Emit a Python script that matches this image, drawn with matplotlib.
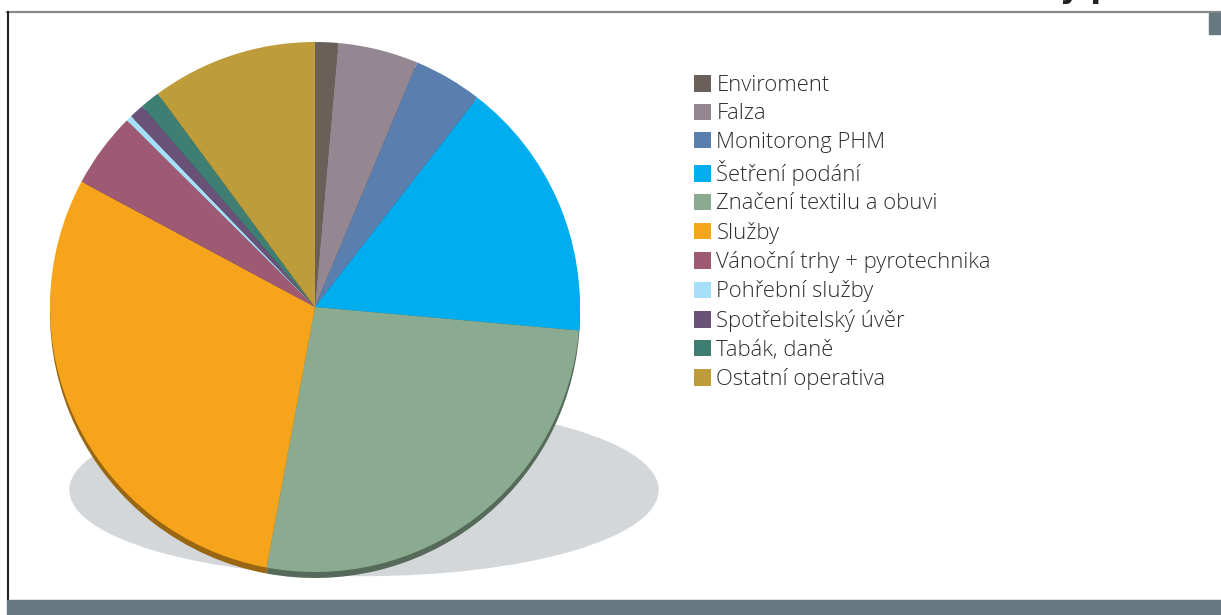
import matplotlib.pyplot as plt
from matplotlib.patches import Ellipse, Rectangle
from matplotlib.colors import to_rgb

# Data (share of actions, in %)
labels = ['Enviroment', 'Falza', 'Monitorong PHM', 'Šetření podání',
          'Značení textilu a obuvi', 'Služby', 'Vánoční trhy + pyrotechnika',
          'Pohřební služby', 'Spotřebitelský úvěr', 'Tabák, daně', 'Ostatní operativa']
values = [1.4, 4.9, 4.2, 15.9, 26.5, 29.9, 4.6, 0.35, 0.9, 1.2, 10.1]
colors = ['#6b5f59', '#948791', '#5a7fae', '#00aeef', '#8aab8f', '#f7a41d',
          '#9e5a72', '#a8dff8', '#6a5177', '#3e7e73', '#bf9c3a']

W, H = 1221, 615
fig = plt.figure(figsize=(W / 100, H / 100), dpi=100)
ax = fig.add_axes([0, 0, 1, 1])

cx, cy, r = 315, H - 307, 265

# shadow ellipse
ax.add_patch(Ellipse((364, H - 490), 588, 171, color='#d4d7da', zorder=1))

# darker rim under the pie (fake 3d edge)
dark = [tuple(c * 0.62 for c in to_rgb(col)) for col in colors]
rim, _ = ax.pie(values, colors=dark, startangle=90, counterclock=False,
                center=(cx, cy - 6), radius=r, frame=True,
                wedgeprops=dict(linewidth=0))
for w in rim:
    w.set_zorder(2)

wedges, _ = ax.pie(values, colors=colors, startangle=90, counterclock=False,
                   center=(cx, cy), radius=r, frame=True,
                   wedgeprops=dict(linewidth=0))
for w in wedges:
    w.set_zorder(3)

ax.set_xlim(0, W)
ax.set_ylim(0, H)
ax.set_aspect('equal')
ax.axis('off')

# legend
leg = ax.legend(wedges, labels, loc='upper left', bbox_to_anchor=(694 / W, 1 - 75 / H),
                frameon=False, prop={'family': 'Open Sans', 'size': 15.8, 'weight': 'light'},
                handlelength=0.77, handleheight=0.77, handletextpad=0.25,
                labelspacing=0.335, borderpad=0, borderaxespad=0)
for t in leg.get_texts():
    t.set_color('#2e2e2e')

# frame decorations
ax.plot([7, W], [H - 12, H - 12], color='#8a8a8a', lw=1.6, zorder=5)
ax.plot([7.5, 7.5], [H - 12, 15], color='#222222', lw=1.5, zorder=5)
ax.add_patch(Rectangle((7, 0), W - 7, 15, color='#667880', zorder=5))
ax.add_patch(Rectangle((1209, H - 34), 12, 21, color='#667880', zorder=5))
ax.text(1060, H + 2, 'y p', fontsize=22, fontweight='bold', color='#222222',
        va='baseline', ha='left', clip_on=False)

fig.savefig('out.png', dpi=100)
